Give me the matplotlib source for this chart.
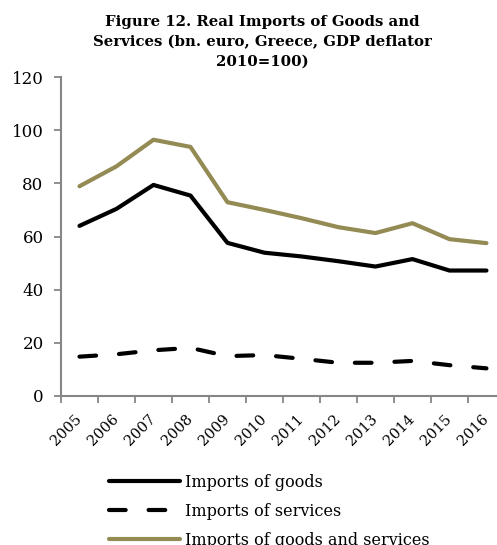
import matplotlib.pyplot as plt

# =========================
# DATA
# =========================
years = ["2005", "2006", "2007", "2008", "2009", "2010",
         "2011", "2012", "2013", "2014", "2015", "2016"]

imports_goods = [64.0, 70.4, 79.4, 75.4, 57.6, 53.9, 52.5, 50.7, 48.7, 51.5, 47.2, 47.2]
imports_services = [14.8, 15.7, 17.2, 18.1, 15.0, 15.4, 14.0, 12.5, 12.5, 13.2, 11.6, 10.4]
imports_total = [78.9, 86.4, 96.4, 93.7, 72.9, 70.0, 66.9, 63.5, 61.3, 65.0, 59.0, 57.5]

TITLE = "Figure 12. Real Imports of Goods and\nServices (bn. euro, Greece, GDP deflator\n2010=100)"
GOLD = "#948a54"
GREY = "#868686"
FONT = "DejaVu Serif"

# =========================
# PLOT
# =========================
plt.rcParams['font.family'] = FONT

fig = plt.figure(figsize=(4.97, 5.45), dpi=100)
ax = fig.add_axes([0.1227, 0.2734, 0.8933, 0.5853])

x = list(range(len(years)))
lw = 3.0
ax.plot(x, imports_goods, color="black", lw=lw, solid_joinstyle="round",
        solid_capstyle="round", label="Imports of goods")
ax.plot(x, imports_services, color="black", lw=lw, dashes=(4, 5.5),
        dash_capstyle="round", label="Imports of services")
ax.plot(x, imports_total, color=GOLD, lw=lw, solid_joinstyle="round",
        solid_capstyle="round", label="Imports of goods and services")

ax.set_xlim(-0.5, 11.5)
ax.set_ylim(0, 120)
ax.set_yticks(range(0, 121, 20))

# category boundaries carry the tick marks, labels sit at centres
ax.set_xticks([i - 0.5 for i in range(len(years) + 1)])
ax.set_xticklabels([])
ax.set_xticks(x, minor=True)
ax.set_xticklabels(years, minor=True, rotation=45, ha="right", va="center",
                   rotation_mode="anchor", fontsize=10.5)
ax.tick_params(axis="x", which="minor", length=0, pad=15)
ax.tick_params(axis="x", which="major", length=5, width=1.3, color=GREY)
ax.tick_params(axis="y", length=5, width=1.3, color=GREY, labelsize=12, pad=7.5)

for side in ["top", "right"]:
    ax.spines[side].set_visible(False)
for side in ["left", "bottom"]:
    ax.spines[side].set_color(GREY)
    ax.spines[side].set_linewidth(1.5)

fig.text(0.528, 0.972, TITLE, ha="center", va="top", fontsize=10.7,
         fontweight="bold", linespacing=1.5)

fig.legend(loc="upper left", bbox_to_anchor=(0.207, 0.142), frameon=False,
           fontsize=11.5, handlelength=4.4, handletextpad=0.35,
           labelspacing=0.75, borderaxespad=0)

fig.savefig("out.png", dpi=100)
